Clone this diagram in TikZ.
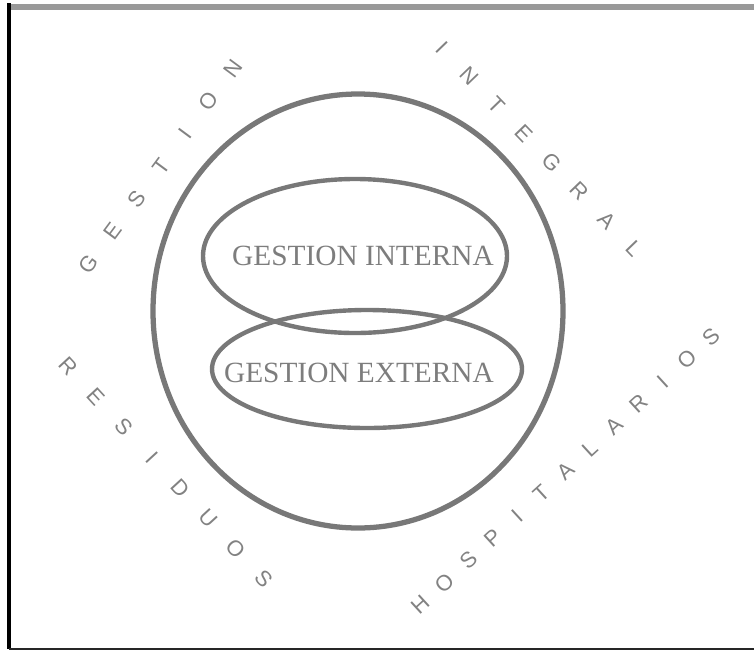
\documentclass[tikz,border=0pt]{standalone}
\usepackage{fontspec}
\setmainfont{Liberation Serif}
\newfontfamily\ringfont{Liberation Sans}
\usetikzlibrary{calc}

\definecolor{ringgray}{RGB}{120,120,120}
\definecolor{textgray}{RGB}{125,125,125}
\definecolor{lettergray}{RGB}{130,130,130}

\begin{document}
\begin{tikzpicture}[
    x=0.02cm, y=-0.02cm,
    % trazos grises de las elipses
    outerring/.style={draw=ringgray, line width=3pt},
    innerring/.style={draw=ringgray, line width=2.5pt},
    gestext/.style={text=textgray, font=\fontsize{16.7}{18}\selectfont, inner sep=0pt},
    ringletter/.style={text=lettergray, font=\ringfont\fontsize{12.5}{14}\selectfont, inner sep=0pt}
]
    \useasboundingbox (0,0) rectangle (754,650);

    % --- MARCO ---
    \coordinate (frame-tl) at (9,7);
    \coordinate (frame-tr) at (754,7);
    \coordinate (frame-bl) at (9,649);
    \coordinate (frame-br) at (754,649);
    \draw[gray!80, line width=3.4pt] ([xshift=-1pt]frame-tl) -- (frame-tr);
    \draw[black, line width=2.2pt] ([yshift=2pt]frame-tl) -- (frame-bl);
    \draw[black!85, line width=1.3pt] (frame-bl) -- (frame-br);

    % --- ELIPSES ---
    \coordinate (big) at (358,311);
    \coordinate (int) at (355,256);
    \coordinate (ext) at (367,369);
    \draw[outerring] (big) ellipse [x radius=205, y radius=217];
    \draw[innerring] (int) ellipse [x radius=152, y radius=77];
    \draw[innerring] (ext) ellipse [x radius=155, y radius=59];

    \node[gestext] (interna) at (363,256) {GESTION INTERNA};
    \node[gestext] (externa) at (359,373) {GESTION EXTERNA};

    % --- TEXTO EXTERIOR (letra por letra) ---
    \coordinate (gest-a) at (89,264);
    \coordinate (gest-b) at (233,69);
    \coordinate (integ-a) at (442,47);
    \coordinate (integ-b) at (634,249);
    \coordinate (resid-a) at (68,366);
    \coordinate (resid-b) at (264,579);
    \coordinate (hosp-a) at (420,605);
    \coordinate (hosp-b) at (711,337);

    \foreach \ch [count=\k from 0] in {G,E,S,T,I,O,N}
        \node[ringletter, rotate=53.5] (gest\k) at ($(gest-a)!\k/6!(gest-b)$) {\ch};
    \foreach \ch [count=\k from 0] in {I,N,T,E,G,R,A,L}
        \node[ringletter, rotate=-46] (integ\k) at ($(integ-a)!\k/7!(integ-b)$) {\ch};
    \foreach \ch [count=\k from 0] in {R,E,S,I,D,U,O,S}
        \node[ringletter, rotate=-47.4] (resid\k) at ($(resid-a)!\k/7!(resid-b)$) {\ch};
    \foreach \ch [count=\k from 0] in {H,O,S,P,I,T,A,L,A,R,I,O,S}
        \node[ringletter, rotate=42.5] (hosp\k) at ($(hosp-a)!\k/12!(hosp-b)$) {\ch};

\end{tikzpicture}
\end{document}
